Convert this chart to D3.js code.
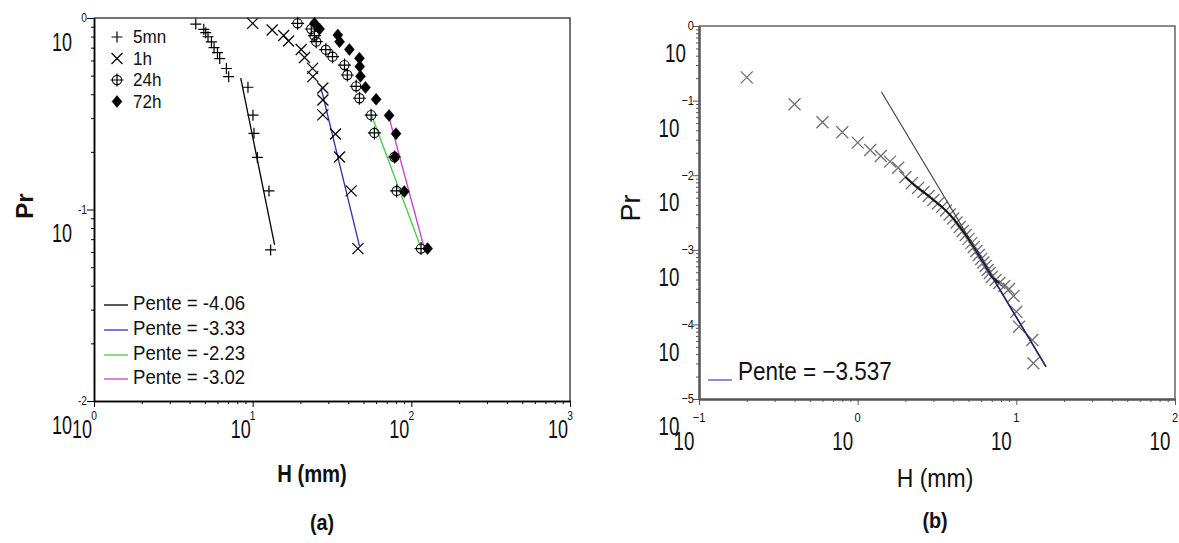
<!DOCTYPE html>
<html><head><meta charset="utf-8">
<script src="https://cdn.jsdelivr.net/npm/d3@7"></script>
<style>body{margin:0;background:#fff}svg{display:block}text{font-family:"Liberation Sans",Arial,sans-serif;fill:#111}</style>
</head><body><svg id="c" width="1179" height="543"></svg>
<script>
// ---------------- DATA ----------------
// Panel (a): exceedance probability Pr vs rainfall depth H (mm), four durations
const seriesNames = ["5mn", "1h", "24h", "72h"];
const h5mn  = [4.38, 4.92, 5.06, 5.23, 5.50, 5.71, 6.00, 6.20, 6.83, 7.06, 9.34, 10.04, 10.19, 10.71, 12.67, 12.98];
const pr5mn = [0.930, 0.873, 0.838, 0.798, 0.751, 0.700, 0.660, 0.614, 0.545, 0.494, 0.435, 0.311, 0.250, 0.187, 0.125, 0.0615];
const h1h   = [10.0, 13.27, 15.67, 16.84, 20.23, 21.23, 23.85, 23.95, 27.7, 27.7, 27.7, 33.27, 35.26, 41.77, 46.07];
const pr1h  = [0.938, 0.866, 0.810, 0.758, 0.685, 0.622, 0.546, 0.494, 0.431, 0.373, 0.312, 0.248, 0.188, 0.125, 0.0625];
const h24h  = [19.19, 23.4, 24.5, 25.15, 28.9, 31.86, 37.9, 39.5, 44.9, 47.1, 55.8, 58.5, 78.2, 80.8, 115.1];
const pr24h = [0.938, 0.876, 0.810, 0.752, 0.683, 0.628, 0.568, 0.504, 0.440, 0.381, 0.311, 0.251, 0.188, 0.125, 0.0625];
const h72h  = [24.5, 26.4, 34.4, 35.3, 40.7, 47.1, 47.3, 47.8, 51.4, 60.0, 72.4, 80.1, 78.8, 90.3, 126.6];
const pr72h = [0.938, 0.876, 0.815, 0.752, 0.685, 0.616, 0.558, 0.496, 0.434, 0.376, 0.310, 0.249, 0.188, 0.124, 0.0625];
// fitted power-law segments (endpoints) and their slopes
const fitSlopes = ["-4.06", "-3.33", "-2.23", "-3.02"];
const fitH  = [[8.41, 13.75], [26.97, 47.1], [56.4, 113.9], [71.7, 119.8]];
const fitPr = [[0.486, 0.0653], [0.431, 0.0645], [0.3077, 0.0645], [0.3115, 0.0641]];
// Panel (b)
const hB  = [0.2, 0.4, 0.6, 0.8, 1.0, 1.2, 1.4, 1.6, 1.8,
             2.0, 2.2, 2.4, 2.6, 2.8, 3.0, 3.2, 3.4, 3.6, 3.8, 4.0, 4.2, 4.4, 4.6, 4.8, 5.0,
             5.2, 5.4, 5.6, 5.8, 6.0, 6.2, 6.4, 6.6, 6.8, 7.0,
             7.4, 7.8, 8.4, 9.0, 9.6, 10.0, 10.4, 12.6, 12.8];
const prB = [0.205, 0.0892, 0.0512, 0.0376, 0.0273, 0.0218, 0.0181, 0.0152, 0.0126,
             0.00946, 0.00786, 0.00674, 0.00595, 0.00526, 0.00465, 0.00417, 0.00375, 0.00336, 0.00297, 0.00263, 0.00232, 0.00202, 0.00179, 0.00158, 0.00140,
             0.00123, 0.00109, 0.000964, 0.000852, 0.000753, 0.000676, 0.000606, 0.000536, 0.000489, 0.000432,
             0.000394, 0.000359, 0.000327, 0.000298, 0.000240, 0.000148, 0.0000931, 0.0000618, 0.0000301];
const fitBH = [1.41, 15.38];
const fitBPr = [0.1316, 0.0000271];
const fitBSlope = "−3.537";
// tick labels
const xMajA = [1, 10, 100, 1000], xExpA = ["0", "1", "2", "3"];
const yMajA = [1, 0.1, 0.01],     yExpA = ["0", "-1", "-2"];
const xMajB = [0.1, 1, 10, 100],  xExpB = ["−1", "0", "1", "2"];
const yMajB = [1, 0.1, 0.01, 0.001, 0.0001, 0.00001], yExpB = ["0", "−1", "−2", "−3", "−4", "−5"];

// ---------------- DRAW ----------------
const svg = d3.select("#c");
svg.append("rect").attr("width", 1179).attr("height", 543).attr("fill", "#fff");

const xA = d3.scaleLog().domain([1, 1000]).range([94, 570]);
const yA = d3.scaleLog().domain([0.01, 1]).range([401, 18]);
const xB = d3.scaleLog().domain([0.1, 100]).range([699, 1175]);
const yB = d3.scaleLog().domain([0.00001, 1]).range([399, 26]);

function minorsOf(majors) {
  const lo = Math.min(...majors), hi = Math.max(...majors), out = [];
  for (let d = lo; d < hi * 0.999; d *= 10) for (let k = 2; k <= 9; k++) out.push(d * k);
  return out;
}
function txt(g, x, y, s, size, anchor, sx, weight) {
  return g.append("text")
    .attr("transform", `translate(${x},${y}) scale(${sx},1)`)
    .attr("text-anchor", anchor).attr("dominant-baseline", "central")
    .attr("font-size", size).attr("font-weight", weight || "normal").text(s);
}
function styleAxis(sel, col, w) {
  sel.selectAll("path.domain").attr("stroke", col).attr("stroke-width", w);
  sel.selectAll(".tick line").attr("stroke", col).attr("stroke-width", 1);
}

// ===== Panel (a) =====
const gA = svg.append("g");
gA.append("path").attr("d", `M${xA(1)},${yA(1)}H${xA(1000)}V${yA(0.01)}`).attr("fill", "none").attr("stroke", "#444").attr("stroke-width", 1.5);
let ax;
ax = gA.append("g").attr("transform", `translate(0,${yA(0.01)})`).call(d3.axisBottom(xA).tickValues(minorsOf(xMajA)).tickSize(3).tickSizeOuter(0).tickFormat(""));
styleAxis(ax, "#000", 1.5);
ax = gA.append("g").attr("transform", `translate(0,${yA(0.01)})`).call(d3.axisBottom(xA).tickValues(xMajA).tickSize(6).tickSizeOuter(0).tickFormat(""));
styleAxis(ax, "#000", 1.5);
ax = gA.append("g").attr("transform", `translate(${xA(1)},0)`).call(d3.axisLeft(yA).tickValues(minorsOf(yMajA)).tickSize(3).tickSizeOuter(0).tickFormat(""));
styleAxis(ax, "#000", 1.5);
ax = gA.append("g").attr("transform", `translate(${xA(1)},0)`).call(d3.axisLeft(yA).tickValues(yMajA).tickSize(7).tickSizeOuter(0).tickFormat(""));
styleAxis(ax, "#000", 1.5);
xMajA.forEach((v, i) => {
  txt(gA, xA(v), 416, xExpA[i], 12, "middle", 0.85);
  txt(gA, xA(v) - 12, 429, "10", 25, "middle", 0.72);
});
yMajA.forEach((v, i) => {
  txt(gA, 87, yA(v), yExpA[i], 12, "end", 0.85);
  txt(gA, 72, yA(v) + 24, "10", 25, "end", 0.72);
});
txt(gA, 312, 474, "H (mm)", 23, "middle", 0.88, "bold");
gA.append("text").attr("transform", "translate(24,206) rotate(-90)").attr("text-anchor", "middle").attr("dominant-baseline", "central").attr("font-size", 24).attr("font-weight", "bold").text("Pr");
txt(gA, 322, 522, "(a)", 22, "middle", 0.9, "bold");

const fitColors = ["#000000", "#2f2fb0", "#3fd03f", "#d03fd0"];
const lineA = d3.line().x(d => xA(d[0])).y(d => yA(d[1]));
fitH.forEach((hh, i) => {
  gA.append("path").attr("d", lineA([[hh[0], fitPr[i][0]], [hh[1], fitPr[i][1]]]))
    .attr("stroke", fitColors[i]).attr("stroke-width", 1.3).attr("fill", "none");
});

const markerPath = {
  plus: "M-5.5,0H5.5M0,-5.5V5.5",
  cross: "M-5.5,-5.5L5.5,5.5M-5.5,5.5L5.5,-5.5",
  circ: "M-6.5,0H6.5M0,-6.5V6.5",
  diam: "M0,-6L5,0L0,6L-5,0Z"
};
function marker(g, x, y, type, col) {
  const m = g.append("g").attr("transform", `translate(${x},${y})`);
  if (type === "circ") m.append("circle").attr("r", 4.6).attr("fill", "none").attr("stroke", col).attr("stroke-width", 1.1);
  m.append("path").attr("d", markerPath[type])
    .attr("fill", type === "diam" ? col : "none")
    .attr("stroke", col).attr("stroke-width", type === "diam" ? 0.5 : 1.2);
}
const seriesH = [h5mn, h1h, h24h, h72h], seriesPr = [pr5mn, pr1h, pr24h, pr72h];
const types = ["plus", "cross", "circ", "diam"];
[3, 2, 1, 0].forEach(si => {
  seriesH[si].forEach((h, j) => marker(gA, xA(h), yA(seriesPr[si][j]), types[si], "#000"));
});
const legY = [37, 58.5, 80, 101.5];
seriesNames.forEach((n, i) => {
  marker(gA, 117, legY[i], types[i], "#000");
  txt(gA, 133, legY[i], n, 18, "start", 0.95);
});
const pentY = [305, 330, 355, 379];
fitSlopes.forEach((s, i) => {
  gA.append("line").attr("x1", 104).attr("x2", 128).attr("y1", pentY[i]).attr("y2", pentY[i]).attr("stroke", fitColors[i]).attr("stroke-width", 1.3);
  txt(gA, 133, pentY[i] - 2, "Pente = " + s, 20, "start", 0.93);
});

// ===== Panel (b) =====
const gB = svg.append("g");
gB.append("path").attr("d", `M${xB(0.1)},${yB(1)}H${xB(100)}V${yB(0.00001)}`).attr("fill", "none").attr("stroke", "#666").attr("stroke-width", 1.5);
ax = gB.append("g").attr("transform", `translate(0,${yB(0.00001)})`).call(d3.axisBottom(xB).tickValues(minorsOf(xMajB)).tickSize(3).tickSizeOuter(0).tickFormat(""));
styleAxis(ax, "#555", 2);
ax = gB.append("g").attr("transform", `translate(0,${yB(0.00001)})`).call(d3.axisBottom(xB).tickValues(xMajB).tickSize(6).tickSizeOuter(0).tickFormat(""));
styleAxis(ax, "#555", 2);
ax = gB.append("g").attr("transform", `translate(${xB(0.1)},0)`).call(d3.axisLeft(yB).tickValues(minorsOf(yMajB)).tickSize(3).tickSizeOuter(0).tickFormat(""));
styleAxis(ax, "#555", 2);
ax = gB.append("g").attr("transform", `translate(${xB(0.1)},0)`).call(d3.axisLeft(yB).tickValues(yMajB).tickSize(6).tickSizeOuter(0).tickFormat(""));
styleAxis(ax, "#555", 2);
xMajB.forEach((v, i) => {
  txt(gB, xB(v), 418, xExpB[i], 13, "middle", 0.85);
  txt(gB, xB(v) - 15, 441, "10", 26, "middle", 0.72);
});
yMajB.forEach((v, i) => {
  const e = txt(gB, 694, yB(v), yExpB[i], 13, "end", 0.85);
  const w = e.node().getComputedTextLength() * 0.85;
  txt(gB, 694 - w - 2, yB(v) + 27, "10", 26, "end", 0.72);
});
txt(gB, 935, 478, "H (mm)", 25, "middle", 0.92);
gB.append("text").attr("transform", "translate(631,208) rotate(-90)").attr("text-anchor", "middle").attr("dominant-baseline", "central").attr("font-size", 27).text("Pr");
txt(gB, 935, 520, "(b)", 22, "middle", 0.9, "bold");

const ptsB = hB.map((h, i) => [h, prB[i]]);
ptsB.forEach(d => {
  gB.append("path").attr("transform", `translate(${xB(d[0])},${yB(d[1])})`)
    .attr("d", "M-6,-6L6,6M-6,6L6,-6").attr("stroke", "#707070").attr("stroke-width", 1.3).attr("fill", "none");
});
const lineB = d3.line().x(d => xB(d[0])).y(d => yB(d[1])).curve(d3.curveMonotoneX);
gB.append("path").attr("d", lineB(ptsB.filter(d => d[0] >= 1.9 && d[0] <= 8))).attr("stroke", "#111").attr("stroke-width", 1.8).attr("fill", "none");
const fitSeg = [[fitBH[0], fitBPr[0]], [fitBH[1], fitBPr[1]]];
gB.append("path").attr("d", d3.line().x(d => xB(d[0])).y(d => yB(d[1]))(fitSeg)).attr("stroke", "#3a3a3a").attr("stroke-width", 1.1).attr("fill", "none");
svg.append("clipPath").attr("id", "tail").append("rect").attr("x", xB(5.6)).attr("y", 0).attr("width", 300).attr("height", 543);
gB.append("path").attr("clip-path", "url(#tail)").attr("d", d3.line().x(d => xB(d[0])).y(d => yB(d[1]))(fitSeg)).attr("stroke", "#24246e").attr("stroke-width", 1.6).attr("fill", "none");
gB.append("line").attr("x1", 708).attr("x2", 732).attr("y1", 380).attr("y2", 380).attr("stroke", "#6464e0").attr("stroke-width", 1.5);
txt(gB, 738, 371, "Pente = " + fitBSlope, 25, "start", 0.9);
</script></body></html>
